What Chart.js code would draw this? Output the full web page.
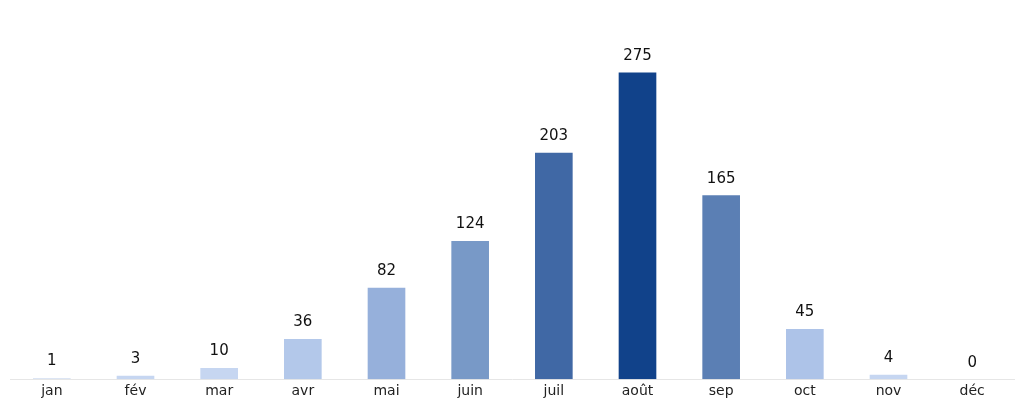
<!DOCTYPE html>
<html lang="fr">
<head>
<meta charset="UTF-8">
<script src="https://cdn.jsdelivr.net/npm/chart.js"></script>
<style>
  html, body { margin: 0; padding: 0; background: #fff; }
  #wrap { width: 1024px; height: 404px; }
</style>
</head>
<body>
<div id="wrap"><canvas id="chart"></canvas></div>
<script>
// data
const months = ["jan", "fév", "mar", "avr", "mai", "juin", "juil", "août", "sep", "oct", "nov", "déc"];
const counts = [1, 3, 10, 36, 82, 124, 203, 275, 165, 45, 4, 0];

// bar colours, one per month
const barColors = ["#dce5f4", "#c6d6f1", "#c6d6f1", "#b3c8ea", "#96b0db", "#7899c7",
                   "#4068a5", "#11428a", "#5b7fb4", "#adc3e8", "#c6d6f1", "#dce5f4"];

// draws the value above each bar
const valueLabels = {
    id: "valueLabels",
    afterDatasetsDraw(chart) {
        const ctx = chart.ctx;
        const meta = chart.getDatasetMeta(0);
        ctx.save();
        ctx.font = "15px 'DejaVu Sans'";
        ctx.fillStyle = "#111";
        ctx.textAlign = "center";
        ctx.textBaseline = "bottom";
        meta.data.forEach((bar, i) => {
            ctx.fillText(counts[i], bar.x, bar.y - 9);
        });
        ctx.restore();
    }
};

new Chart(document.getElementById("chart"), {
    type: "bar",
    data: {
        labels: months,
        datasets: [{
            data: counts,
            backgroundColor: barColors,
            barPercentage: 0.45,
            categoryPercentage: 1
        }]
    },
    options: {
        responsive: true,
        maintainAspectRatio: false,
        animation: false,
        layout: { padding: { left: 10, right: 10, top: 0, bottom: 0 } },
        plugins: { legend: { display: false }, tooltip: { enabled: false } },
        scales: {
            x: {
                grid: { display: false, drawTicks: false },
                border: { display: true, color: "#e6e6e6" },
                ticks: { color: "#222", font: { size: 14, family: "DejaVu Sans" }, padding: 4 }
            },
            y: { display: false, min: 0, max: 340 }
        }
    },
    plugins: [valueLabels]
});
</script>
</body>
</html>
